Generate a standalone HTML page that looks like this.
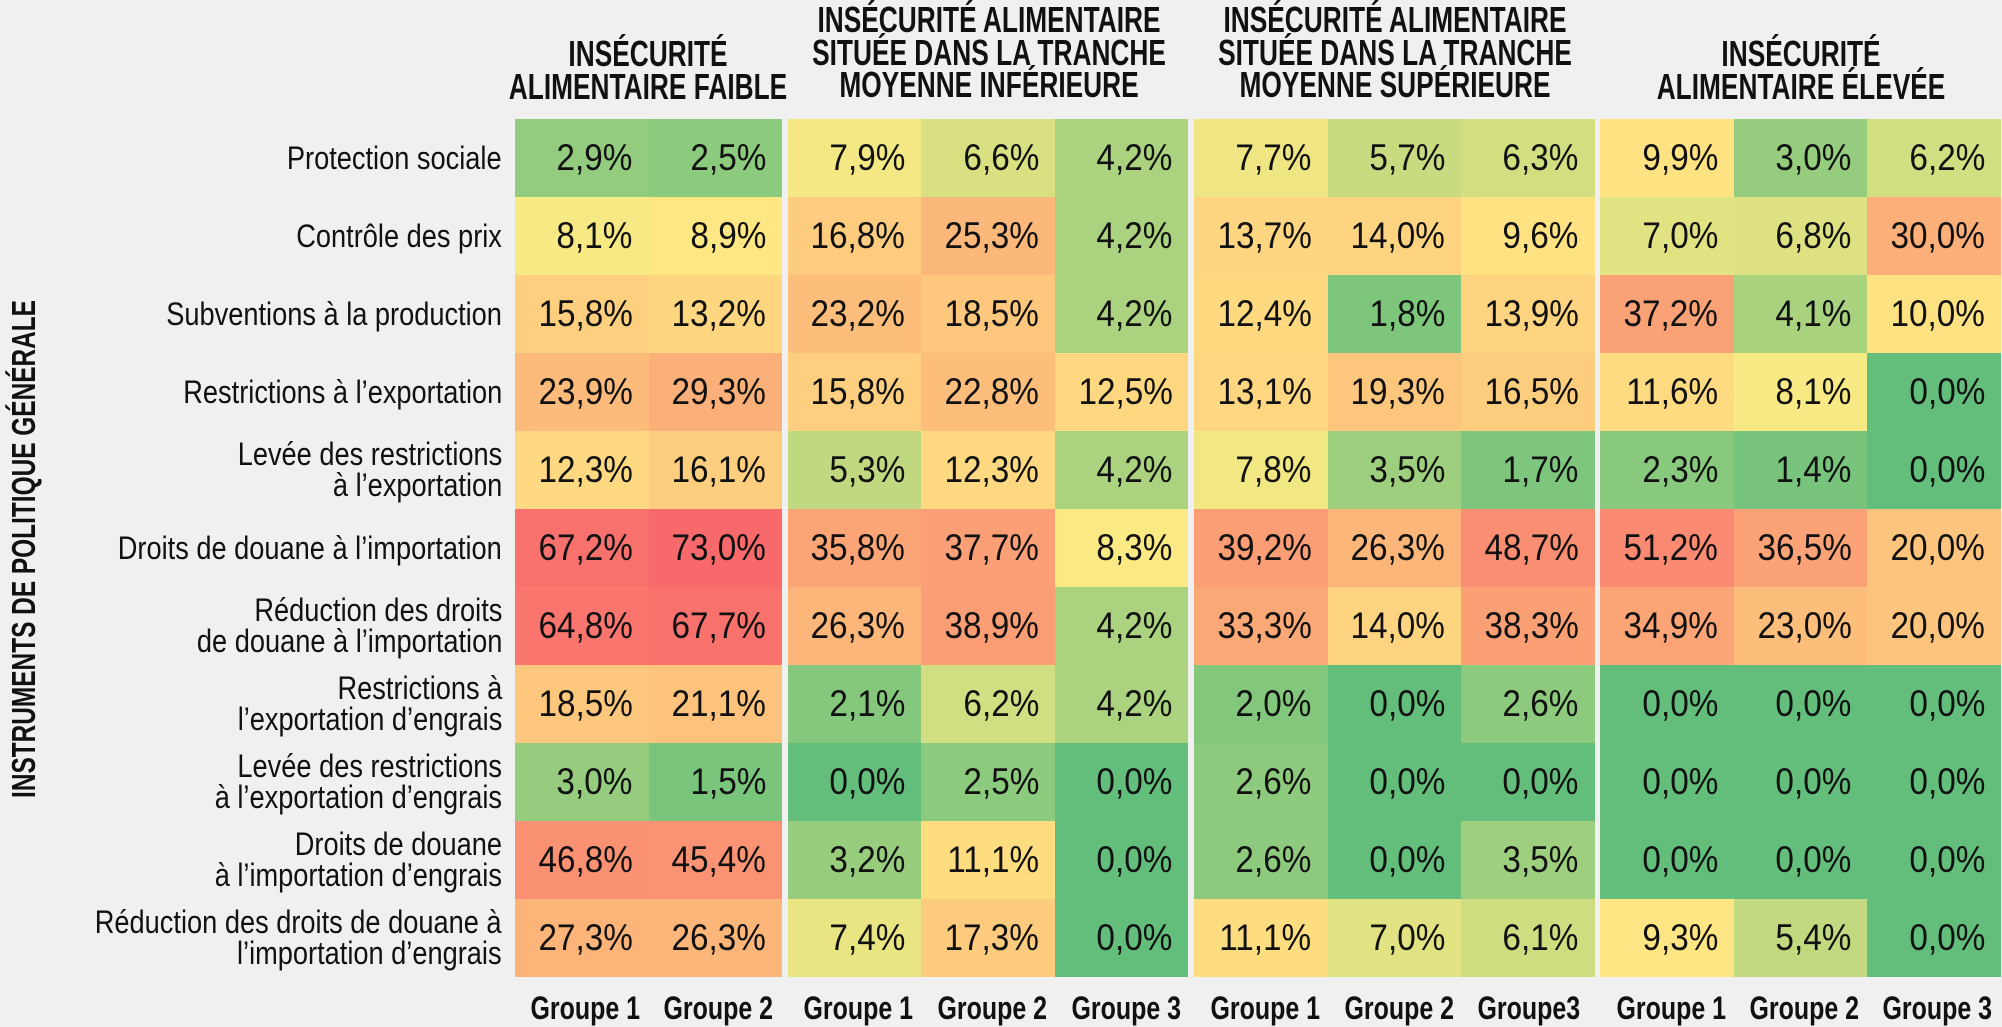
<!DOCTYPE html>
<html><head><meta charset="utf-8">
<style>
body{margin:0;background:#f0f0f0;}
#w{position:relative;width:2002px;height:1027px;background:#f0f0f0;overflow:hidden;font-family:"Liberation Sans",sans-serif;color:#111;}
.h{position:absolute;text-align:center;font-weight:bold;font-size:36px;line-height:32.5px;width:520px;transform:scaleX(0.73);transform-origin:center;}
.row{position:absolute;left:515px;height:78px;display:flex;}
.c{width:133.6px;height:78px;line-height:78px;text-align:right;padding-right:16px;box-sizing:border-box;font-size:37px;flex:none;}
.c span{display:inline-block;transform:scaleX(0.9);transform-origin:right center;}
.g{margin-left:5.5px;}
.lab{position:absolute;left:2px;width:500px;text-align:right;font-size:32px;line-height:31px;display:flex;align-items:center;justify-content:flex-end;height:78px;}
.lab span{display:block;transform:scaleX(0.85);transform-origin:right center;white-space:nowrap;}
.b{position:absolute;top:990px;width:134px;text-align:center;font-weight:bold;font-size:32px;}
.b span{display:inline-block;transform:scaleX(0.78);white-space:nowrap;}
.y{position:absolute;left:24px;top:549px;transform:translate(-50%,-50%) rotate(-90deg) scaleX(0.74);font-weight:bold;font-size:33px;white-space:nowrap;}
</style></head><body><div id="w">
<div class="h" style="left:388px;top:38px">INSÉCURITÉ<br>ALIMENTAIRE FAIBLE</div>
<div class="h" style="left:729px;top:4px">INSÉCURITÉ ALIMENTAIRE<br>SITUÉE DANS LA TRANCHE<br>MOYENNE INFÉRIEURE</div>
<div class="h" style="left:1135px;top:4px">INSÉCURITÉ ALIMENTAIRE<br>SITUÉE DANS LA TRANCHE<br>MOYENNE SUPÉRIEURE</div>
<div class="h" style="left:1541px;top:38px">INSÉCURITÉ<br>ALIMENTAIRE ÉLEVÉE</div>
<div class="y">INSTRUMENTS DE POLITIQUE GÉNÉRALE</div>

<div class="lab" style="top:119px"><span>Protection sociale</span></div>
<div class="lab" style="top:197px"><span>Contrôle des prix</span></div>
<div class="lab" style="top:275px"><span>Subventions à la production</span></div>
<div class="lab" style="top:353px"><span>Restrictions à l’exportation</span></div>
<div class="lab" style="top:431px"><span>Levée des restrictions<br>à l’exportation</span></div>
<div class="lab" style="top:509px"><span>Droits de douane à l’importation</span></div>
<div class="lab" style="top:587px"><span>Réduction des droits<br>de douane à l’importation</span></div>
<div class="lab" style="top:665px"><span>Restrictions à<br>l’exportation d’engrais</span></div>
<div class="lab" style="top:743px"><span>Levée des restrictions<br>à l’exportation d’engrais</span></div>
<div class="lab" style="top:821px"><span>Droits de douane<br>à l’importation d’engrais</span></div>
<div class="lab" style="top:899px"><span>Réduction des droits de douane à<br>l’importation d’engrais</span></div>

<div class="row" style="top:119px"><div class="c"><span>2,9%</span></div><div class="c"><span>2,5%</span></div><div class="c g"><span>7,9%</span></div><div class="c"><span>6,6%</span></div><div class="c"><span>4,2%</span></div><div class="c g"><span>7,7%</span></div><div class="c"><span>5,7%</span></div><div class="c"><span>6,3%</span></div><div class="c g"><span>9,9%</span></div><div class="c"><span>3,0%</span></div><div class="c"><span>6,2%</span></div></div>
<div class="row" style="top:197px"><div class="c"><span>8,1%</span></div><div class="c"><span>8,9%</span></div><div class="c g"><span>16,8%</span></div><div class="c"><span>25,3%</span></div><div class="c"><span>4,2%</span></div><div class="c g"><span>13,7%</span></div><div class="c"><span>14,0%</span></div><div class="c"><span>9,6%</span></div><div class="c g"><span>7,0%</span></div><div class="c"><span>6,8%</span></div><div class="c"><span>30,0%</span></div></div>
<div class="row" style="top:275px"><div class="c"><span>15,8%</span></div><div class="c"><span>13,2%</span></div><div class="c g"><span>23,2%</span></div><div class="c"><span>18,5%</span></div><div class="c"><span>4,2%</span></div><div class="c g"><span>12,4%</span></div><div class="c"><span>1,8%</span></div><div class="c"><span>13,9%</span></div><div class="c g"><span>37,2%</span></div><div class="c"><span>4,1%</span></div><div class="c"><span>10,0%</span></div></div>
<div class="row" style="top:353px"><div class="c"><span>23,9%</span></div><div class="c"><span>29,3%</span></div><div class="c g"><span>15,8%</span></div><div class="c"><span>22,8%</span></div><div class="c"><span>12,5%</span></div><div class="c g"><span>13,1%</span></div><div class="c"><span>19,3%</span></div><div class="c"><span>16,5%</span></div><div class="c g"><span>11,6%</span></div><div class="c"><span>8,1%</span></div><div class="c"><span>0,0%</span></div></div>
<div class="row" style="top:431px"><div class="c"><span>12,3%</span></div><div class="c"><span>16,1%</span></div><div class="c g"><span>5,3%</span></div><div class="c"><span>12,3%</span></div><div class="c"><span>4,2%</span></div><div class="c g"><span>7,8%</span></div><div class="c"><span>3,5%</span></div><div class="c"><span>1,7%</span></div><div class="c g"><span>2,3%</span></div><div class="c"><span>1,4%</span></div><div class="c"><span>0,0%</span></div></div>
<div class="row" style="top:509px"><div class="c"><span>67,2%</span></div><div class="c"><span>73,0%</span></div><div class="c g"><span>35,8%</span></div><div class="c"><span>37,7%</span></div><div class="c"><span>8,3%</span></div><div class="c g"><span>39,2%</span></div><div class="c"><span>26,3%</span></div><div class="c"><span>48,7%</span></div><div class="c g"><span>51,2%</span></div><div class="c"><span>36,5%</span></div><div class="c"><span>20,0%</span></div></div>
<div class="row" style="top:587px"><div class="c"><span>64,8%</span></div><div class="c"><span>67,7%</span></div><div class="c g"><span>26,3%</span></div><div class="c"><span>38,9%</span></div><div class="c"><span>4,2%</span></div><div class="c g"><span>33,3%</span></div><div class="c"><span>14,0%</span></div><div class="c"><span>38,3%</span></div><div class="c g"><span>34,9%</span></div><div class="c"><span>23,0%</span></div><div class="c"><span>20,0%</span></div></div>
<div class="row" style="top:665px"><div class="c"><span>18,5%</span></div><div class="c"><span>21,1%</span></div><div class="c g"><span>2,1%</span></div><div class="c"><span>6,2%</span></div><div class="c"><span>4,2%</span></div><div class="c g"><span>2,0%</span></div><div class="c"><span>0,0%</span></div><div class="c"><span>2,6%</span></div><div class="c g"><span>0,0%</span></div><div class="c"><span>0,0%</span></div><div class="c"><span>0,0%</span></div></div>
<div class="row" style="top:743px"><div class="c"><span>3,0%</span></div><div class="c"><span>1,5%</span></div><div class="c g"><span>0,0%</span></div><div class="c"><span>2,5%</span></div><div class="c"><span>0,0%</span></div><div class="c g"><span>2,6%</span></div><div class="c"><span>0,0%</span></div><div class="c"><span>0,0%</span></div><div class="c g"><span>0,0%</span></div><div class="c"><span>0,0%</span></div><div class="c"><span>0,0%</span></div></div>
<div class="row" style="top:821px"><div class="c"><span>46,8%</span></div><div class="c"><span>45,4%</span></div><div class="c g"><span>3,2%</span></div><div class="c"><span>11,1%</span></div><div class="c"><span>0,0%</span></div><div class="c g"><span>2,6%</span></div><div class="c"><span>0,0%</span></div><div class="c"><span>3,5%</span></div><div class="c g"><span>0,0%</span></div><div class="c"><span>0,0%</span></div><div class="c"><span>0,0%</span></div></div>
<div class="row" style="top:899px"><div class="c"><span>27,3%</span></div><div class="c"><span>26,3%</span></div><div class="c g"><span>7,4%</span></div><div class="c"><span>17,3%</span></div><div class="c"><span>0,0%</span></div><div class="c g"><span>11,1%</span></div><div class="c"><span>7,0%</span></div><div class="c"><span>6,1%</span></div><div class="c g"><span>9,3%</span></div><div class="c"><span>5,4%</span></div><div class="c"><span>0,0%</span></div></div>

<div class="b" style="left:515px"><span>Groupe 1</span></div>
<div class="b" style="left:648px"><span>Groupe 2</span></div>
<div class="b" style="left:788px"><span>Groupe 1</span></div>
<div class="b" style="left:922px"><span>Groupe 2</span></div>
<div class="b" style="left:1056px"><span>Groupe 3</span></div>
<div class="b" style="left:1195px"><span>Groupe 1</span></div>
<div class="b" style="left:1329px"><span>Groupe 2</span></div>
<div class="b" style="left:1462px"><span>Groupe3</span></div>
<div class="b" style="left:1601px"><span>Groupe 1</span></div>
<div class="b" style="left:1734px"><span>Groupe 2</span></div>
<div class="b" style="left:1867px"><span>Groupe 3</span></div>
</div>
<script>
var G=[99,190,123],Y=[255,235,132],R=[248,105,107],mid=8.5,mx=73;
function mix(a,b,t){return 'rgb('+a.map(function(v,i){return Math.round(v+(b[i]-v)*t)}).join(',')+')';}
document.querySelectorAll('.c').forEach(function(e){
 var v=parseFloat(e.textContent.replace(',','.'));
 var col = v<=mid ? mix(G,Y,Math.pow(v/mid,1.1)) : mix(Y,R,Math.pow((v-mid)/(mx-mid),0.7));
 e.style.background=col;
});
</script>
</body></html>
